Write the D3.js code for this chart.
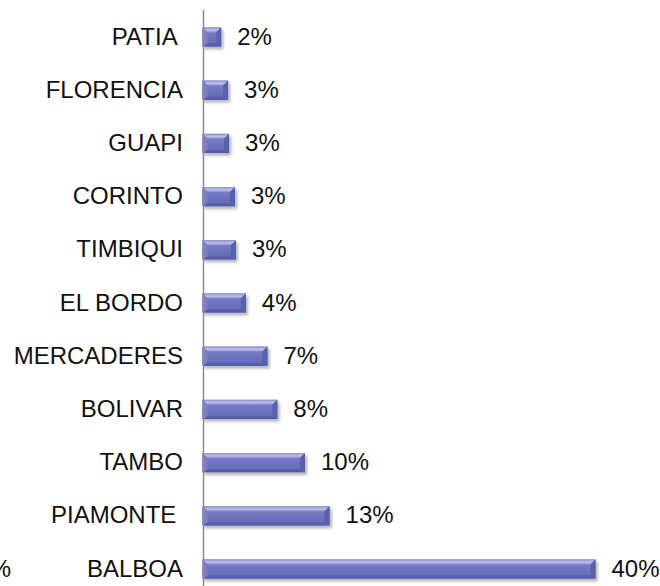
<!DOCTYPE html>
<html>
<head>
<meta charset="utf-8">
<script src="https://cdn.jsdelivr.net/npm/d3@7"></script>
<style>
  html, body { margin: 0; padding: 0; background: #fff; }
  svg { display: block; }
  text { font-family: "Liberation Sans", Arial, sans-serif; fill: #111; }
</style>
</head>
<body>
<svg id="chart" width="660" height="586"></svg>
<script>
// Municipalities (top to bottom) and their share, in percent
const categories = ["PATIA ", "FLORENCIA", "GUAPI", "CORINTO", "TIMBIQUI", "EL BORDO",
                    "MERCADERES", "BOLIVAR", "TAMBO", "PIAMONTE ", "BALBOA"];
const values = [1.9, 2.6, 2.7, 3.3, 3.4, 4.4, 6.6, 7.6, 10.4, 12.9, 39.9];
const valueDomain = [0, 40];

const svg = d3.select("#chart");
const W = 660, H = 586;
const fontSize = 24;

const x = d3.scaleLinear().domain(valueDomain).range([202.5, 596.5]);
const y = d3.scaleBand().domain(categories).range([10.4, 595.6])
  .paddingInner(0.64).paddingOuter(0.32);

const defs = svg.append("defs");
const shadow = defs.append("filter").attr("id", "shadow")
  .attr("x", "-10%").attr("y", "-30%").attr("width", "130%").attr("height", "180%");
shadow.append("feDropShadow").attr("dx", 2).attr("dy", 2.5)
  .attr("stdDeviation", 1.6).attr("flood-color", "#000").attr("flood-opacity", 0.3);

const body = defs.append("linearGradient").attr("id", "barBody")
  .attr("x1", 0).attr("y1", 0).attr("x2", 0).attr("y2", 1);
[["0%", "#7c81cb"], ["45%", "#7075c3"], ["100%", "#6368b8"]]
  .forEach(([o, c]) => body.append("stop").attr("offset", o).attr("stop-color", c));

const topFace = defs.append("linearGradient").attr("id", "barTop")
  .attr("x1", 0).attr("y1", 0).attr("x2", 0).attr("y2", 1);
[["0%", "#8c90d3"], ["55%", "#bcbfea"], ["100%", "#8a8ed2"]]
  .forEach(([o, c]) => topFace.append("stop").attr("offset", o).attr("stop-color", c));

const bev = 5;
const bars = svg.append("g").selectAll("g.bar")
  .data(categories.map((c, i) => ({ c, v: values[i] })))
  .join("g").attr("class", "bar").attr("filter", "url(#shadow)");

bars.each(function (d) {
  const g = d3.select(this);
  const x0 = x(0), x1 = x(d.v), y0 = y(d.c), h = y.bandwidth(), y1 = y0 + h;
  const b = Math.min(bev, (x1 - x0) / 2 - 1);
  g.append("rect").attr("x", x0).attr("y", y0).attr("width", x1 - x0).attr("height", h)
    .attr("fill", "url(#barBody)");
  // top bevel
  g.append("polygon").attr("points",
    [[x0, y0], [x1, y0], [x1 - b, y0 + b], [x0 + b, y0 + b]].map(p => p.join(",")).join(" "))
    .attr("fill", "url(#barTop)");
  // bottom bevel
  g.append("polygon").attr("points",
    [[x0 + b, y1 - 3], [x1 - b, y1 - 3], [x1, y1], [x0, y1]].map(p => p.join(",")).join(" "))
    .attr("fill", "#565ba9");
  // right bevel
  g.append("polygon").attr("points",
    [[x1 - b, y0 + b], [x1, y0], [x1, y1], [x1 - b, y1 - 3]].map(p => p.join(",")).join(" "))
    .attr("fill", "#5a5fae");
  // left bevel
  g.append("polygon").attr("points",
    [[x0, y0], [x0 + b, y0 + b], [x0 + b, y1 - 3], [x0, y1]].map(p => p.join(",")).join(" "))
    .attr("fill", "#7a7fc9");
});

// vertical category axis line
svg.append("line")
  .attr("x1", 203.5).attr("x2", 203.5).attr("y1", 10).attr("y2", H)
  .attr("stroke", "#8a8a8a").attr("stroke-width", 1.5);

// category labels
svg.append("g").selectAll("text")
  .data(categories).join("text")
  .attr("x", 183).attr("y", d => y(d) + y.bandwidth() / 2 + 7.5)
  .attr("text-anchor", "end")
  .attr("font-size", fontSize)
  .style("white-space", "pre")
  .text(d => d);

// value labels
svg.append("g").selectAll("text")
  .data(categories.map((c, i) => ({ c, v: values[i] }))).join("text")
  .attr("x", d => x(d.v) + 16).attr("y", d => y(d.c) + y.bandwidth() / 2 + 7.5)
  .attr("font-size", fontSize)
  .text(d => Math.round(d.v) + "%");

// edge of the neighbouring panel's label
svg.append("text").attr("x", 11).attr("y", y("BALBOA") + y.bandwidth() / 2 + 7.5)
  .attr("text-anchor", "end").attr("font-size", fontSize).text("%");
</script>
</body>
</html>
